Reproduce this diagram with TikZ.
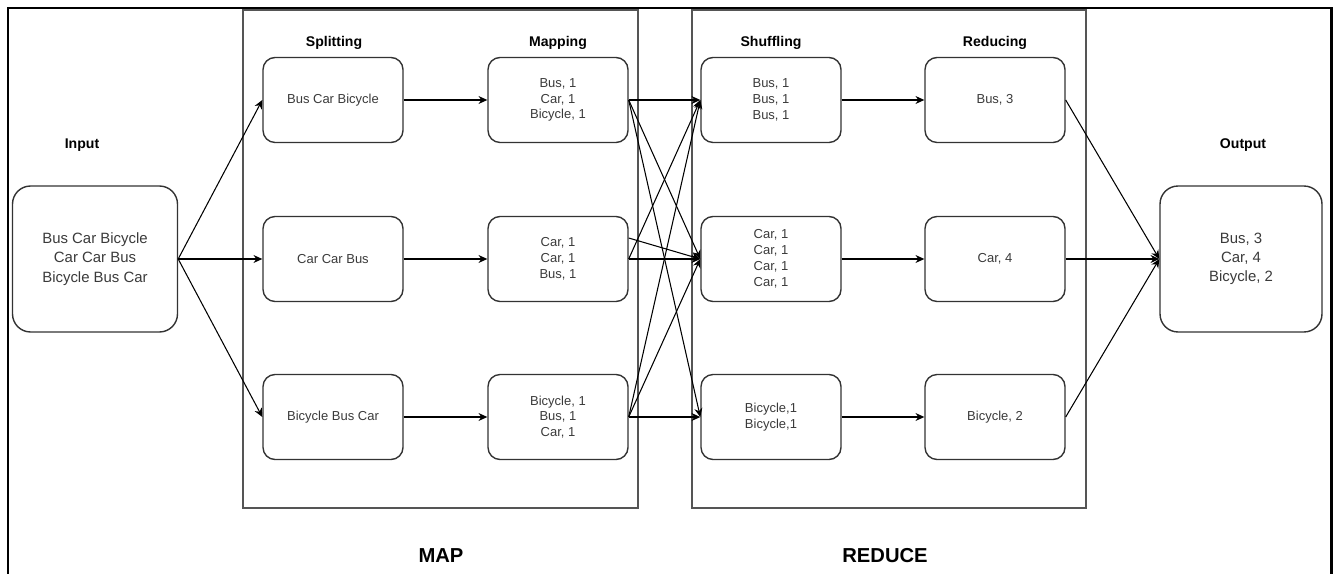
\documentclass[tikz,border=0pt]{standalone}
\usepackage{fontspec}
\setmainfont{Liberation Sans}
\usetikzlibrary{arrows.meta}

\definecolor{boxline}{HTML}{333333}
\definecolor{boxtext}{HTML}{3A3A3A}
\definecolor{frameline}{HTML}{555555}

\begin{document}
\begin{tikzpicture}[x=0.02cm, y=-0.02cm,
    stage/.style={draw=boxline, line width=0.8pt, rounded corners=0.24cm,
        minimum width=2.8cm, minimum height=1.7cm, align=center,
        text=boxtext, font=\fontsize{7.4}{9}\selectfont},
    endbox/.style={stage, minimum width=3.3cm, minimum height=2.92cm,
        rounded corners=0.36cm, font=\fontsize{8.5}{11}\selectfont},
    title/.style={font=\bfseries\fontsize{8}{10}\selectfont},
    phase/.style={font=\bfseries\fontsize{11.5}{14}\selectfont},
    flow/.style={-{Stealth[length=5pt,width=4.5pt]}, line width=0.6pt}]
    \useasboundingbox (0,0) rectangle (1339,574);

    % --- frames ---
    \draw[line width=1.7pt] (8,574) -- (8,8) -- (1331,8) -- (1331,574);
    \draw[frameline, line width=0.9pt] (243,10) rectangle (638,508);
    \draw[frameline, line width=0.9pt] (692,10) rectangle (1086,508);

    % --- input / output ---
    \node[endbox] (in) at (95,259) {Bus Car Bicycle\\Car Car Bus\\Bicycle Bus Car};
    \node[endbox, minimum width=3.24cm] (out) at (1241,259) {Bus, 3\\Car, 4\\Bicycle, 2};

    % --- map phase ---
    \node[stage] (s1) at (333,100) {Bus Car Bicycle};
    \node[stage] (s2) at (333,259) {Car Car Bus};
    \node[stage] (s3) at (333,417) {Bicycle Bus Car};
    \node[stage] (m1) at (558,100) {Bus, 1\\Car, 1\\Bicycle, 1};
    \node[stage] (m2) at (558,259) {Car, 1\\Car, 1\\Bus, 1};
    \node[stage] (m3) at (558,417) {Bicycle, 1\\Bus, 1\\Car, 1};

    % --- reduce phase ---
    \node[stage] (sh1) at (771,100) {Bus, 1\\Bus, 1\\Bus, 1};
    \node[stage] (sh2) at (771,259) {Car, 1\\Car, 1\\Car, 1\\Car, 1};
    \node[stage] (sh3) at (771,417) {Bicycle,1\\Bicycle,1};
    \node[stage] (r1) at (995,100) {Bus, 3};
    \node[stage] (r2) at (995,259) {Car, 4};
    \node[stage] (r3) at (995,417) {Bicycle, 2};

    % --- labels ---
    \node[title] (lin) at (82,145) {Input};
    \node[title] (lout) at (1243,145) {Output};
    \node[title] (lsplit) at (334,43) {Splitting};
    \node[title] (lmap) at (558,43) {Mapping};
    \node[title] (lshuf) at (771,43) {Shuffling};
    \node[title] (lred) at (995,43) {Reducing};
    \node[phase] (pmap) at (441,556) {MAP};
    \node[phase] (pred) at (885,556) {REDUCE};

    % --- connectors ---
    \foreach \r in {1,2,3} {
        \draw[flow] (in.east) -- (s\r.west);
        \draw[flow] (s\r) -- (m\r);
        \draw[flow] (sh\r) -- (r\r);
        \draw[flow] (r\r.east) -- (out.west);
    }
    \draw[flow] (m1.east) -- (sh1.west);
    \draw[flow] (m1.east) -- (sh2.west);
    \draw[flow] (m1.east) -- (sh3.west);
    \draw[flow] ([yshift=0.42cm]m2.east) -- (sh2.west);
    \draw[flow] (m2.east) -- (sh2.west);
    \draw[flow] (m2.east) -- (sh1.west);
    \draw[flow] (m3.east) -- (sh3.west);
    \draw[flow] (m3.east) -- (sh1.west);
    \draw[flow] (m3.east) -- (sh2.west);
\end{tikzpicture}
\end{document}
